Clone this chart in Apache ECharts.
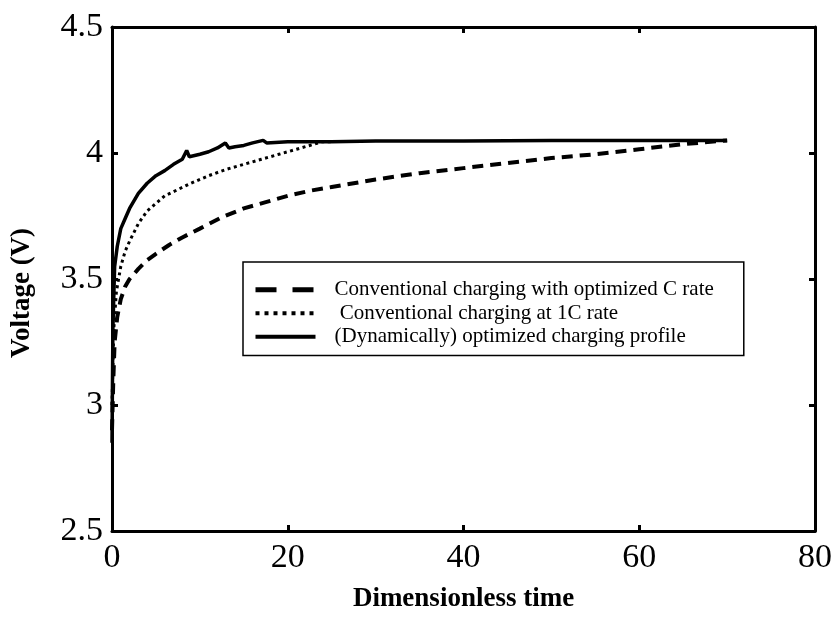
<!DOCTYPE html>
<html>
<head>
<meta charset="utf-8">
<script src="https://cdn.jsdelivr.net/npm/echarts@6/dist/echarts.min.js"></script>
<style>
html,body{margin:0;padding:0;background:#fff;}
#chart{width:837px;height:618px;}
</style>
</head>
<body>
<div id="chart"></div>
<script>
// Dashed: conventional charging with optimized C rate
var dashT = [0, 0.15, 0.3, 0.6, 1, 1.5, 2, 3, 4, 5, 6.5, 8, 10, 12.5, 15, 17.5, 20, 22.5, 25, 30, 35, 40, 45, 50, 55, 60, 65, 70];
var dashV = [2.9, 3.1, 3.25, 3.35, 3.42, 3.47, 3.5, 3.54, 3.575, 3.6, 3.635, 3.665, 3.7, 3.745, 3.78, 3.805, 3.83, 3.85, 3.865, 3.895, 3.92, 3.94, 3.96, 3.98, 3.995, 4.015, 4.035, 4.05];
// Dotted: conventional charging at 1C rate
var dotT = [0, 0.2, 0.5, 1, 1.5, 2, 3, 4, 5, 6, 7.5, 9, 11, 13, 15, 17, 19, 21, 22.5, 24, 25];
var dotV = [3.0, 3.3, 3.45, 3.55, 3.61, 3.65, 3.72, 3.77, 3.8, 3.83, 3.855, 3.88, 3.91, 3.935, 3.955, 3.975, 3.995, 4.015, 4.03, 4.045, 4.045];
// Solid: dynamically optimized charging profile
var solT = [0, 0.1, 0.3, 0.6, 1, 1.5, 2, 3, 4, 5, 6, 7, 8, 8.5, 8.8, 10, 11, 12, 12.9, 13.3, 14, 15, 16, 17.2, 17.6, 20, 25, 30, 40, 50, 60, 70];
var solV = [2.85, 3.3, 3.55, 3.63, 3.7, 3.74, 3.78, 3.84, 3.88, 3.91, 3.93, 3.955, 3.975, 4.01, 3.985, 3.995, 4.005, 4.02, 4.04, 4.02, 4.025, 4.03, 4.04, 4.05, 4.04, 4.045, 4.045, 4.048, 4.048, 4.05, 4.05, 4.05];

var seriesNames = ['Conventional charging with optimized C rate', ' Conventional charging at 1C rate', '(Dynamically) optimized charging profile'];
var xTicks = [0, 20, 40, 60, 80];
var yTicks = [2.5, 3, 3.5, 4, 4.5];
var xName = 'Dimensionless time';
var yName = 'Voltage (V)';

function pairs(t, v) { return t.map(function (x, i) { return [x, v[i]]; }); }

var font = '"Liberation Serif", "Times New Roman", serif';
var axisCommon = {
  type: 'value',
  axisLine: { show: true, onZero: false, lineStyle: { color: '#000', width: 3 } },
  axisTick: { show: true, inside: true, length: 6, lineStyle: { color: '#000', width: 3 } },
  splitLine: { show: false }
};

var chart = echarts.init(document.getElementById('chart'), null, { renderer: 'canvas' });
chart.setOption({
  backgroundColor: '#fff',
  animation: false,
  grid: { left: 112, right: 22, top: 27, bottom: 86, containLabel: false },
  xAxis: [
    Object.assign({}, axisCommon, {
      min: xTicks[0], max: xTicks[xTicks.length - 1], interval: 20, position: 'bottom',
      name: xName, nameLocation: 'middle', nameGap: 55,
      nameTextStyle: { fontFamily: font, fontWeight: 'bold', fontSize: 27, color: '#000' },
      axisLabel: { fontFamily: font, fontSize: 34, color: '#000', margin: 10 }
    }),
    Object.assign({}, axisCommon, {
      min: xTicks[0], max: xTicks[xTicks.length - 1], interval: 20, position: 'top',
      axisLabel: { show: false }
    })
  ],
  yAxis: [
    Object.assign({}, axisCommon, {
      min: yTicks[0], max: yTicks[yTicks.length - 1], interval: 0.5, position: 'left',
      name: yName, nameLocation: 'middle', nameGap: 76,
      nameTextStyle: { fontFamily: font, fontWeight: 'bold', fontSize: 27, color: '#000', padding: [0, 28, 0, 0] },
      axisLabel: { fontFamily: font, fontSize: 34, color: '#000', margin: 9,
        formatter: function (v) { return String(v); } }
    }),
    Object.assign({}, axisCommon, {
      min: yTicks[0], max: yTicks[yTicks.length - 1], interval: 0.5, position: 'right',
      axisLabel: { show: false }
    })
  ],
  legend: {
    show: true,
    orient: 'vertical',
    left: 243, top: 262,
    data: [
      { name: seriesNames[0], lineStyle: { width: 5, type: [21, 16], color: '#000' } },
      { name: seriesNames[1], lineStyle: { width: 4, type: [4, 5], color: '#000' } },
      { name: seriesNames[2], lineStyle: { width: 4, type: 'solid', color: '#000' } }
    ],
    itemWidth: 60, itemHeight: 14, itemGap: 0,
    padding: [16, 30, 7, 10],
    backgroundColor: '#fff',
    borderColor: '#000', borderWidth: 1.5, borderRadius: 0,
    itemStyle: { opacity: 0 },
    textStyle: { fontFamily: font, fontSize: 21, color: '#000', padding: [0, 0, 0, 14], lineHeight: 23.5 }
  },
  series: [
    {
      name: seriesNames[0], type: 'line', data: pairs(dashT, dashV),
      symbol: 'none', showSymbol: false, smooth: false,
      lineStyle: { color: '#000', width: 4, type: [11, 7] }, itemStyle: { color: '#000' }
    },
    {
      name: seriesNames[1], type: 'line', data: pairs(dotT, dotV),
      symbol: 'none', showSymbol: false, smooth: false,
      lineStyle: { color: '#000', width: 3, type: [3, 3.5] }, itemStyle: { color: '#000' }
    },
    {
      name: seriesNames[2], type: 'line', data: pairs(solT, solV),
      symbol: 'none', showSymbol: false, smooth: false,
      lineStyle: { color: '#000', width: 3.5, type: 'solid' }, itemStyle: { color: '#000' }
    }
  ]
});
</script>
</body>
</html>
